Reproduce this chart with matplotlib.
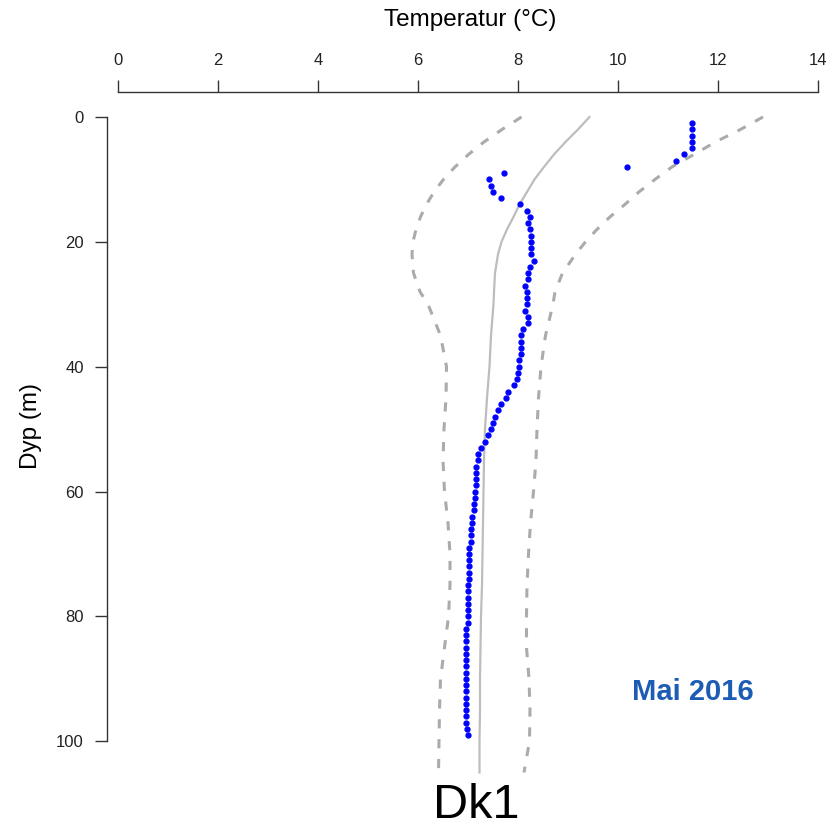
import numpy as np
import matplotlib
matplotlib.use('Agg')
import matplotlib.pyplot as plt

plt.rcParams['font.family'] = ['Liberation Sans', 'DejaVu Sans']

# målte temperaturer, 1 m oppløsning
depth = np.arange(1, 100)
temp = [11.47, 11.49, 11.49, 11.49, 11.49, 11.32, 11.17, 10.18, 7.73, 7.43,
        7.46, 7.50, 7.67, 8.04, 8.17, 8.23, 8.20, 8.23, 8.26, 8.26,
        8.26, 8.26, 8.31, 8.23, 8.20, 8.20, 8.14, 8.17, 8.17, 8.17,
        8.14, 8.20, 8.20, 8.11, 8.05, 8.05, 8.05, 8.05, 8.03, 8.03,
        7.99, 7.97, 7.91, 7.81, 7.76, 7.67, 7.61, 7.55, 7.51, 7.47,
        7.41, 7.35, 7.26, 7.20, 7.20, 7.17, 7.17, 7.17, 7.17, 7.15,
        7.15, 7.12, 7.12, 7.09, 7.09, 7.06, 7.06, 7.06, 7.03, 7.03,
        7.03, 7.03, 7.03, 7.03, 7.00, 7.00, 7.00, 7.00, 7.00, 7.00,
        7.00, 6.97, 6.97, 6.97, 6.97, 6.97, 6.97, 6.97, 6.97, 6.97,
        6.97, 6.97, 6.97, 6.97, 6.97, 6.97, 6.97, 6.98, 7.00]

# klimatologi: middel og grenser
clim_depth = [0, 2, 4, 6, 8, 10, 12, 14, 16, 18, 20, 22, 25, 28, 30,
              35, 40, 45, 50, 55, 60, 65, 70, 75, 80, 85, 90, 95, 100, 105]
clim_mean = [9.43, 9.20, 8.95, 8.72, 8.52, 8.33, 8.18, 8.03, 7.91, 7.78,
             7.67, 7.60, 7.54, 7.52, 7.51, 7.46, 7.43, 7.38, 7.34, 7.32,
             7.31, 7.30, 7.29, 7.28, 7.26, 7.25, 7.24, 7.24, 7.23, 7.23]
clim_low = [8.07, 7.68, 7.32, 7.01, 6.74, 6.51, 6.32, 6.17, 6.05, 5.96,
            5.90, 5.88, 5.91, 6.04, 6.20, 6.45, 6.57, 6.56, 6.52, 6.50,
            6.53, 6.60, 6.64, 6.64, 6.61, 6.53, 6.45, 6.43, 6.42, 6.41]
clim_high = [12.90, 12.45, 11.95, 11.52, 11.08, 10.74, 10.42, 10.14, 9.84, 9.58,
             9.35, 9.15, 8.89, 8.74, 8.70, 8.55, 8.46, 8.41, 8.38, 8.36,
             8.31, 8.25, 8.21, 8.18, 8.17, 8.17, 8.22, 8.24, 8.23, 8.12]

xticks = [0, 2, 4, 6, 8, 10, 12, 14]
yticks = [0, 20, 40, 60, 80, 100]

W, H = 838, 827
fig = plt.figure(figsize=(W / 100, H / 100), dpi=100)
ax = fig.add_axes([107 / W, 1 - 775 / H, 726 / W, 683 / H])

grey = '#ababab'
ax.plot(clim_low, clim_depth, color=grey, lw=2.2, dashes=(3, 3.5), solid_capstyle='butt')
ax.plot(clim_high, clim_depth, color=grey, lw=2.2, dashes=(3, 3.5), solid_capstyle='butt')
ax.plot(clim_mean, clim_depth, color='#bdbdbd', lw=1.6)
ax.plot(temp, depth, 'o', color='#0000ff', ms=3.5, mec='#0000ff')

ax.set_xlim(-0.22, 14.3)
ax.set_ylim(105.4, -4.0)

for s in ['right', 'bottom']:
    ax.spines[s].set_visible(False)
ax.spines['top'].set_bounds(0, 14)
ax.spines['left'].set_bounds(0, 100)
for s in ['top', 'left']:
    ax.spines[s].set_color('#333333')
    ax.spines[s].set_linewidth(1.0)

ax.xaxis.set_ticks_position('top')
ax.set_xticks(xticks)
ax.set_yticks(yticks)
ax.tick_params(axis='x', length=8.6, width=1.0, color='#333333', pad=9,
               labelsize=12, labelcolor='#222222')
ax.tick_params(axis='y', length=8.6, width=1.0, color='#333333', pad=8,
               labelsize=12, labelcolor='#222222')

fig.text(470 / W, 1 - 20 / H, 'Temperatur (°C)', ha='center', va='center', fontsize=17.5)
fig.text(31 / W, 1 - 426 / H, 'Dyp (m)', ha='center', va='center', rotation=90, fontsize=17.5)
fig.text(476 / W, 1 - 805 / H, 'Dk1', ha='center', va='center', fontsize=35)
fig.text(693 / W, 1 - 692 / H, 'Mai 2016', ha='center', va='center', fontsize=21,
         fontweight='bold', color='#1c5cb4')

fig.savefig('out.png', dpi=100)
